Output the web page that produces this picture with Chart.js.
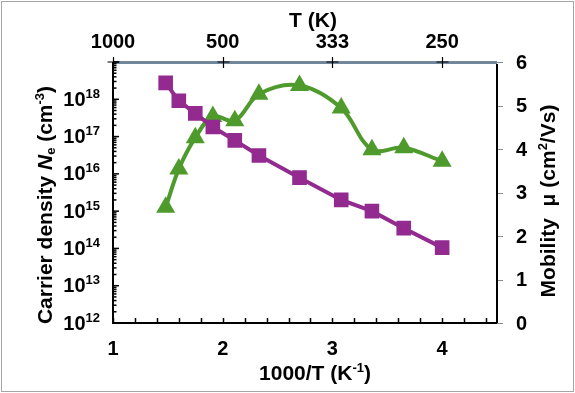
<!DOCTYPE html>
<html><head><meta charset="utf-8">
<script src="https://cdn.jsdelivr.net/npm/chart.js@4"></script>
<style>html,body{margin:0;padding:0;background:#fff;overflow:hidden}</style>
</head><body>
<canvas id="c" width="575" height="393" style="display:block;width:575px;height:393px"></canvas>
<script>
// ---- data ----
const invT = [1.48, 1.60, 1.75, 1.91, 2.11, 2.33, 2.70, 3.08, 3.36, 3.65, 4.00];
const carrierDensity = [2.75e18, 9.1e17, 4.2e17, 1.8e17, 7.9e16, 3.1e16, 7.9e15, 2.0e15, 1.0e15, 3.5e14, 1.05e14];
const mobility = [2.66, 3.54, 4.26, 4.75, 4.65, 5.26, 5.46, 4.94, 3.98, 4.03, 3.72];
const xTickValues = [1, 2, 3, 4];
const xTickLabels = ['1', '2', '3', '4'];
const topTickLabels = ['1000', '500', '333', '250'];
const leftExponents = [12, 13, 14, 15, 16, 17, 18];
const rightTickValues = [0, 1, 2, 3, 4, 5, 6];

const FONT = '"Liberation Sans", Arial, sans-serif';
const fontOf = (size, italic) => `${italic ? 'italic ' : ''}bold ${size}px ${FONT}`;

function drawRich(ctx, segs, cx, cy, rot) {
  ctx.save();
  ctx.translate(cx, cy);
  ctx.rotate(rot || 0);
  let total = 0;
  segs.forEach(s => { ctx.font = fontOf(s.size, s.i); s.w = ctx.measureText(s.t).width; total += s.w; });
  let x = -total / 2;
  ctx.textBaseline = 'middle';
  ctx.textAlign = 'left';
  ctx.fillStyle = '#000';
  segs.forEach(s => { ctx.font = fontOf(s.size, s.i); ctx.fillText(s.t, x, s.dy || 0); x += s.w; });
  ctx.restore();
}

const framePlugin = {
  id: 'frame',
  beforeDatasetsDraw(chart) {
    const ctx = chart.ctx, a = chart.chartArea;
    const sx = chart.scales.x, sy = chart.scales.y, sr = chart.scales.y2;
    ctx.save();
    // outer border
    ctx.strokeStyle = '#a6a6a6'; ctx.lineWidth = 1;
    ctx.strokeRect(1.5, 1.5, 572, 390);
    // top axis (gray-blue)
    ctx.strokeStyle = '#72879c'; ctx.lineWidth = 3;
    ctx.beginPath(); ctx.moveTo(a.left, a.top + 0.5); ctx.lineTo(a.right, a.top + 0.5); ctx.stroke();
    // right axis ticks (gray)
    ctx.strokeStyle = '#8c8c8c'; ctx.lineWidth = 1;
    rightTickValues.forEach(v => {
      const y = Math.round(sr.getPixelForValue(v)) + 0.5;
      ctx.beginPath(); ctx.moveTo(a.right, y); ctx.lineTo(a.right + 6, y); ctx.stroke();
    });
    // left, bottom, right axis lines
    ctx.strokeStyle = '#000'; ctx.lineWidth = 2;
    ctx.beginPath();
    ctx.moveTo(a.left, a.top); ctx.lineTo(a.left, a.bottom); ctx.lineTo(a.right, a.bottom);
    ctx.moveTo(a.right, a.top + 2); ctx.lineTo(a.right, a.bottom);
    ctx.stroke();
    // left ticks (inward)
    ctx.lineWidth = 1.5;
    leftExponents.concat([19]).forEach(e => {
      const y = sy.getPixelForValue(Math.pow(10, e));
      ctx.beginPath(); ctx.moveTo(a.left, y); ctx.lineTo(a.left + 6, y); ctx.stroke();
      if (e < 19) {
        for (let m = 2; m <= 9; m++) {
          const ym = sy.getPixelForValue(m * Math.pow(10, e));
          ctx.beginPath(); ctx.moveTo(a.left, ym); ctx.lineTo(a.left + 3.5, ym); ctx.stroke();
        }
      }
    });
    // bottom ticks (inward, every 0.2)
    for (let k = 0; k <= 17; k++) {
      const v = 1 + k * 0.2;
      const x = Math.round(sx.getPixelForValue(v)) + 0.5;
      ctx.beginPath(); ctx.moveTo(x, a.bottom); ctx.lineTo(x, a.bottom - 5); ctx.stroke();
    }
    // top crosses
    ctx.lineWidth = 1.2;
    xTickValues.forEach(v => {
      const x = Math.round(sx.getPixelForValue(v)) + 0.5;
      ctx.beginPath();
      ctx.moveTo(x, a.top - 5); ctx.lineTo(x, a.top + 6);
      ctx.moveTo(x - 6, a.top); ctx.lineTo(x + 6, a.top);
      ctx.stroke();
    });
    ctx.restore();
  },
  afterDraw(chart) {
    const ctx = chart.ctx, a = chart.chartArea;
    const sx = chart.scales.x, sy = chart.scales.y, sr = chart.scales.y2;
    ctx.save();
    ctx.fillStyle = '#000';
    ctx.textBaseline = 'middle';
    // bottom tick labels
    ctx.font = fontOf(20); ctx.textAlign = 'center';
    xTickValues.forEach((v, i) => ctx.fillText(xTickLabels[i], sx.getPixelForValue(v), a.bottom + 26));
    // top tick labels
    xTickValues.forEach((v, i) => ctx.fillText(topTickLabels[i], sx.getPixelForValue(v), a.top - 20));
    // right tick labels
    ctx.textAlign = 'left';
    rightTickValues.forEach(v => ctx.fillText(String(v), a.right + 19, sr.getPixelForValue(v) + 1));
    // left tick labels 10^n
    leftExponents.forEach(e => {
      const y = sy.getPixelForValue(Math.pow(10, e)) + 1;
      ctx.font = fontOf(20); const w1 = ctx.measureText('10').width;
      ctx.font = fontOf(13); const w2 = ctx.measureText(String(e)).width;
      const x0 = a.left - 13 - w1 - w2;
      ctx.textAlign = 'left';
      ctx.font = fontOf(20); ctx.fillText('10', x0, y);
      ctx.font = fontOf(13); ctx.fillText(String(e), x0 + w1, y - 6);
    });
    ctx.restore();
    // titles
    drawRich(ctx, [{t: 'T (K)', size: 21}], 313, 21, 0);
    drawRich(ctx, [{t: '1000/T (K', size: 21}, {t: '-1', size: 13, dy: -6}, {t: ')', size: 21}], 315, 374, 0);
    drawRich(ctx, [
      {t: 'Carrier density ', size: 21},
      {t: 'N', size: 21, i: true},
      {t: 'e', size: 13, dy: 5},
      {t: ' (cm', size: 21},
      {t: '-3', size: 13, dy: -6},
      {t: ')', size: 21}
    ], 46, 205, -Math.PI / 2);
    drawRich(ctx, [
      {t: 'Mobility  \u03bc (cm', size: 21},
      {t: '2', size: 13, dy: -6},
      {t: '/Vs)', size: 21}
    ], 549, 201, -Math.PI / 2);
  }
};

new Chart(document.getElementById('c'), {
  type: 'scatter',
  data: {
    datasets: [
      {
        label: 'Carrier density',
        data: invT.map((x, i) => ({x, y: carrierDensity[i]})),
        yAxisID: 'y',
        showLine: true,
        borderColor: '#922a8f',
        backgroundColor: '#922a8f',
        borderWidth: 4,
        pointStyle: 'rect',
        pointRadius: 7.5,
        pointHoverRadius: 7.5,
        tension: 0
      },
      {
        label: 'Mobility',
        data: invT.map((x, i) => ({x, y: mobility[i]})),
        yAxisID: 'y2',
        showLine: true,
        borderColor: '#4e9a2c',
        backgroundColor: '#4e9a2c',
        borderWidth: 4,
        pointStyle: 'triangle',
        pointRadius: 7,
        pointHoverRadius: 7,
        tension: 0.35
      }
    ]
  },
  options: {
    responsive: false,
    devicePixelRatio: 1,
    animation: false,
    events: [],
    layout: {padding: {left: 113, right: 78, top: 62, bottom: 70}},
    plugins: {legend: {display: false}, tooltip: {enabled: false}},
    scales: {
      x: {type: 'linear', min: 1, max: 4.5, display: false},
      y: {type: 'logarithmic', min: 1e12, max: 1e19, display: false},
      y2: {type: 'linear', min: 0, max: 6, display: false, position: 'right'}
    }
  },
  plugins: [framePlugin]
});
</script>
</body></html>
